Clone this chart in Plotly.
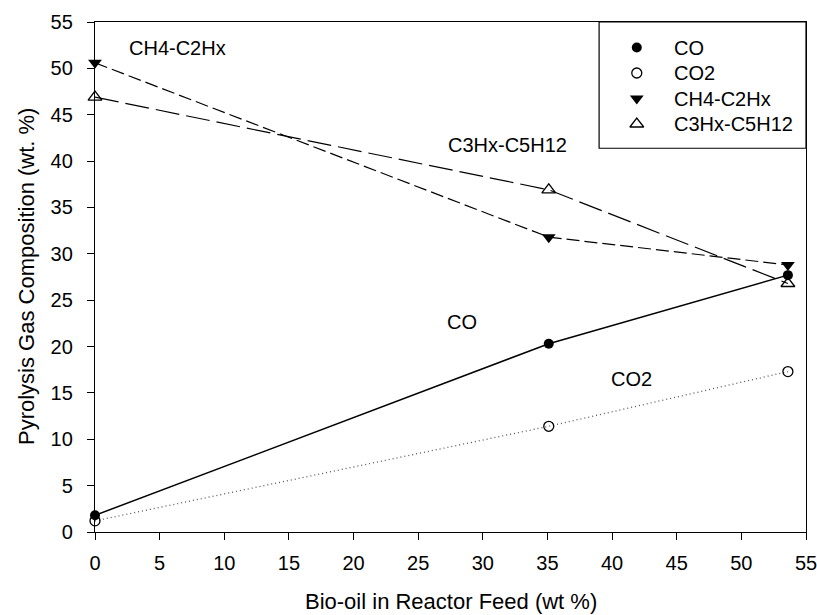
import plotly.graph_objects as go

# Bio-oil fraction in the reactor feed (wt %)
feed = [0.0, 35.1, 53.6]

# Pyrolysis gas composition (wt. %) for each species
co = [1.8, 20.3, 27.7]
co2 = [1.2, 11.4, 17.3]
ch4_c2hx = [50.6, 31.8, 28.8]
c3hx_c5h12 = [46.9, 36.9, 26.8]

series_names = ["CO", "CO2", "CH4-C2Hx", "C3Hx-C5H12"]

x_ticks = list(range(0, 56, 5))
y_ticks = list(range(0, 56, 5))

FONT = "Liberation Sans, Arial, sans-serif"
BLACK = "black"

fig = go.Figure()

styles = {
    "CO": dict(line=dict(color=BLACK, width=1.5, dash="solid"),
               marker=dict(symbol="circle", size=10, color=BLACK)),
    "CO2": dict(line=dict(color="#555555", width=1.3, dash="1px,3px"),
                marker=dict(symbol="circle-open", size=10, color=BLACK,
                            line=dict(width=1.3, color=BLACK))),
    "CH4-C2Hx": dict(line=dict(color=BLACK, width=1.2, dash="13px,5px"),
                     marker=dict(symbol="triangle-down", size=12, color=BLACK)),
    "C3Hx-C5H12": dict(line=dict(color=BLACK, width=1.2, dash="24px,7px"),
                       marker=dict(symbol="triangle-up-open", size=12, color=BLACK,
                                   line=dict(width=1.3, color=BLACK))),
}
values = {"CO": co, "CO2": co2, "CH4-C2Hx": ch4_c2hx, "C3Hx-C5H12": c3hx_c5h12}

for name in series_names:
    fig.add_trace(go.Scatter(
        x=feed, y=values[name], mode="lines+markers", name=name,
        showlegend=False, cliponaxis=False, **styles[name]))

# Boxed key in the upper-right corner, drawn on an overlay axis spanning 0..1
key_x_marker = 0.762
key_x_text = 0.811
key_rows = [0.950, 0.900, 0.850, 0.800]
for name, ky in zip(series_names, key_rows):
    m = styles[name]["marker"]
    fig.add_trace(go.Scatter(
        x=[key_x_marker], y=[ky], mode="markers", marker=m,
        xaxis="x2", yaxis="y2", showlegend=False, hoverinfo="skip"))
    fig.add_annotation(x=key_x_text, y=ky, xref="x2", yref="y2", text=name,
                       showarrow=False, xanchor="left", yanchor="middle",
                       font=dict(family=FONT, size=20, color=BLACK))

fig.add_shape(type="rect", xref="x2", yref="y2", x0=0.709, x1=1.0, y0=0.7525, y1=1.0,
              line=dict(color=BLACK, width=1.2), fillcolor="rgba(0,0,0,0)")

# Series labels placed beside their curves
labels = [("CH4-C2Hx", 6.4, 52.2), ("C3Hx-C5H12", 31.9, 41.7),
          ("CO", 28.4, 22.6), ("CO2", 41.5, 16.5)]
for text, lx, ly in labels:
    fig.add_annotation(x=lx, y=ly, text=text, showarrow=False,
                       font=dict(family=FONT, size=20, color=BLACK))

# Axis titles
fig.add_annotation(x=0.5, y=0, xref="paper", yref="paper", yshift=-69,
                   text="Bio-oil in Reactor Feed (wt %)", showarrow=False,
                   xanchor="center", yanchor="middle",
                   font=dict(family=FONT, size=22, color=BLACK))
fig.add_annotation(x=0, y=0.5, xref="paper", yref="paper", xshift=-69,
                   text="Pyrolysis Gas Composition (wt. %)", showarrow=False,
                   textangle=-90, xanchor="center", yanchor="middle",
                   font=dict(family=FONT, size=22, color=BLACK))

axis_common = dict(
    showgrid=False, zeroline=False, showline=True, linecolor=BLACK, linewidth=1.3,
    mirror=True, ticks="outside", ticklen=7, tickwidth=1.3, tickcolor=BLACK,
    tickfont=dict(family=FONT, size=20, color=BLACK), ticklabeloverflow="allow",
    automargin=False,
)

fig.update_layout(
    width=817, height=615,
    margin=dict(l=95, r=11, t=22, b=83),
    paper_bgcolor="white", plot_bgcolor="white",
    showlegend=False,
    xaxis=dict(range=[0, 55], tickvals=x_ticks, ticklabelstandoff=6, **axis_common),
    yaxis=dict(range=[0, 55], tickvals=y_ticks, ticklabelstandoff=10, **axis_common),
    xaxis2=dict(range=[0, 1], overlaying="x", visible=False, fixedrange=True),
    yaxis2=dict(range=[0, 1], overlaying="y", visible=False, fixedrange=True),
)

fig.write_html("out.html")
